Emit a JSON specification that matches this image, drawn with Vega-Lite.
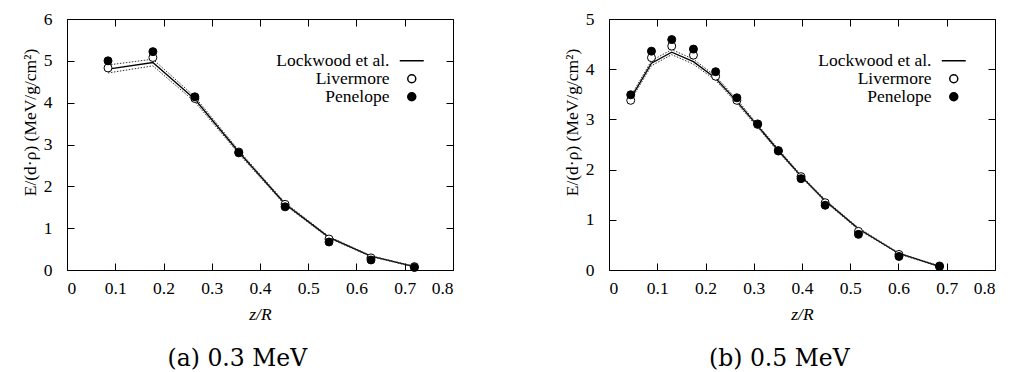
{
  "$schema": "https://vega.github.io/schema/vega-lite/v6.json",
  "padding": {"left": 20, "top": 9, "right": 0, "bottom": 0},
  "background": "white",
  "config": {
    "view": {"stroke": "black", "strokeWidth": 1},
    "axis": {"grid": false, "domain": false, "ticks": true, "tickSize": -7, "tickColor": "black", "tickWidth": 1,
             "labelFont": "Tinos", "labelFontSize": 17.5, "labelColor": "black",
             "titleFont": "Tinos", "titleFontSize": 17.5, "titleFontWeight": "normal", "titleColor": "black"},
    "legend": {"orient": "none", "legendX": 336, "legendY": 33, "labelAlign": "right", "labelOffset": -31,
               "labelFont": "Tinos", "labelFontSize": 17.5, "labelColor": "black",
               "symbolSize": 64, "rowPadding": -5, "padding": 0, "title": null}
  },
  "datasets": {
    "a": [
      {"z": 0.085, "Lockwood": 4.80, "hi": 4.90, "lo": 4.71, "Livermore": 4.83, "Penelope": 5.00},
      {"z": 0.178, "Lockwood": 4.96, "hi": 5.04, "lo": 4.88, "Livermore": 5.08, "Penelope": 5.22},
      {"z": 0.265, "Lockwood": 4.08, "hi": 4.14, "lo": 4.02, "Livermore": 4.10, "Penelope": 4.14},
      {"z": 0.356, "Lockwood": 2.82, "hi": 2.86, "lo": 2.78, "Livermore": 2.82, "Penelope": 2.80},
      {"z": 0.452, "Lockwood": 1.58, "hi": 1.61, "lo": 1.55, "Livermore": 1.57, "Penelope": 1.51},
      {"z": 0.543, "Lockwood": 0.78, "hi": 0.80, "lo": 0.76, "Livermore": 0.74, "Penelope": 0.67},
      {"z": 0.630, "Lockwood": 0.33, "hi": 0.34, "lo": 0.32, "Livermore": 0.29, "Penelope": 0.24},
      {"z": 0.720, "Lockwood": 0.08, "hi": 0.09, "lo": 0.07, "Livermore": 0.08, "Penelope": 0.06}
    ],
    "b": [
      {"z": 0.045, "Lockwood": 3.42, "hi": 3.46, "lo": 3.38, "Livermore": 3.38, "Penelope": 3.49},
      {"z": 0.088, "Lockwood": 4.12, "hi": 4.17, "lo": 4.07, "Livermore": 4.23, "Penelope": 4.36},
      {"z": 0.130, "Lockwood": 4.34, "hi": 4.39, "lo": 4.29, "Livermore": 4.46, "Penelope": 4.59},
      {"z": 0.175, "Lockwood": 4.15, "hi": 4.20, "lo": 4.10, "Livermore": 4.28, "Penelope": 4.40},
      {"z": 0.221, "Lockwood": 3.82, "hi": 3.86, "lo": 3.78, "Livermore": 3.86, "Penelope": 3.95},
      {"z": 0.265, "Lockwood": 3.36, "hi": 3.40, "lo": 3.32, "Livermore": 3.38, "Penelope": 3.43},
      {"z": 0.308, "Lockwood": 2.87, "hi": 2.90, "lo": 2.84, "Livermore": 2.90, "Penelope": 2.91},
      {"z": 0.351, "Lockwood": 2.38, "hi": 2.41, "lo": 2.35, "Livermore": 2.38, "Penelope": 2.37},
      {"z": 0.398, "Lockwood": 1.87, "hi": 1.89, "lo": 1.85, "Livermore": 1.86, "Penelope": 1.82},
      {"z": 0.448, "Lockwood": 1.38, "hi": 1.40, "lo": 1.36, "Livermore": 1.34, "Penelope": 1.29},
      {"z": 0.517, "Lockwood": 0.82, "hi": 0.84, "lo": 0.80, "Livermore": 0.77, "Penelope": 0.71},
      {"z": 0.601, "Lockwood": 0.33, "hi": 0.34, "lo": 0.32, "Livermore": 0.31, "Penelope": 0.27},
      {"z": 0.685, "Lockwood": 0.07, "hi": 0.08, "lo": 0.06, "Livermore": 0.08, "Penelope": 0.07}
    ]
  },
  "spacing": 108,
  "resolve": {"scale": {"shape": "independent", "fill": "independent"},
              "legend": {"shape": "independent", "fill": "independent"}},
  "hconcat": [
    {
      "width": 386, "height": 251,
      "title": {"text": "(a) 0.3 MeV", "orient": "bottom", "anchor": "middle", "frame": "bounds", "fontSize": 23.5, "font": "DejaVu Serif", "fontWeight": "normal", "color": "black", "offset": 24},
      "data": {"name": "a"},
      "layer": [
        {"mark": {"type": "line", "color": "black", "strokeWidth": 1.3},
         "encoding": {
           "x": {"field": "z", "type": "quantitative", "scale": {"domain": [0, 0.8], "nice": false, "zero": false},
                 "axis": {"values": [0, 0.1, 0.2, 0.3, 0.4, 0.5, 0.6, 0.7, 0.8], "format": "~g", "title": "z/R", "titleFontStyle": "italic", "labelPadding": 16, "titlePadding": 9,
                          "labelFont": "Tinos", "titleFont": "Tinos"}},
           "y": {"field": "Lockwood", "type": "quantitative", "scale": {"domain": [0, 6], "nice": false},
                 "axis": {"values": [0, 1, 2, 3, 4, 5, 6], "title": "E/(d·ρ) (MeV/g/cm²)", "labelPadding": 22, "titlePadding": 4, "titleY": 103,
                          "labelFont": "Tinos", "titleFont": "Tinos"}}
         }},
        {"mark": {"type": "line", "color": "#333", "strokeWidth": 1, "strokeDash": [1.5, 1.5]},
         "encoding": {"x": {"field": "z", "type": "quantitative", "axis": null}, "y": {"field": "hi", "type": "quantitative", "axis": null}}},
        {"mark": {"type": "line", "color": "#333", "strokeWidth": 1, "strokeDash": [1.5, 1.5]},
         "encoding": {"x": {"field": "z", "type": "quantitative", "axis": null}, "y": {"field": "lo", "type": "quantitative", "axis": null}}},
        {"transform": [{"fold": ["Livermore", "Penelope"], "as": ["series", "value"]}],
         "mark": {"type": "point", "filled": true, "stroke": "black", "strokeWidth": 1, "opacity": 1, "size": 64},
         "encoding": {
           "x": {"field": "z", "type": "quantitative", "axis": {"orient": "top", "labels": false, "title": null, "values": [0, 0.1, 0.2, 0.3, 0.4, 0.5, 0.6, 0.7, 0.8]}},
           "y": {"field": "value", "type": "quantitative", "axis": {"orient": "right", "labels": false, "title": null, "values": [0, 1, 2, 3, 4, 5, 6]}},
           "shape": {"field": "series", "type": "nominal", "scale": {"domain": ["Lockwood et al.", "Livermore", "Penelope"], "range": ["M-3,0H3", "circle", "circle"]},
                     "legend": {"encode": {"symbols": {"update": {"stroke": {"value": "black"}, "strokeWidth": {"value": 1.2}}}}}},
           "fill": {"field": "series", "type": "nominal", "scale": {"domain": ["Lockwood et al.", "Livermore", "Penelope"], "range": ["transparent", "white", "black"]},
                     "legend": {"encode": {"symbols": {"update": {"stroke": {"value": "black"}, "strokeWidth": {"value": 1.2}}}}}}
         }}
      ],
      "resolve": {"axis": {"x": "independent", "y": "independent"}}
    },
    {
      "width": 386, "height": 251,
      "title": {"text": "(b) 0.5 MeV", "orient": "bottom", "anchor": "middle", "frame": "bounds", "fontSize": 23.5, "font": "DejaVu Serif", "fontWeight": "normal", "color": "black", "offset": 24},
      "data": {"name": "b"},
      "layer": [
        {"mark": {"type": "line", "color": "black", "strokeWidth": 1.3},
         "encoding": {
           "x": {"field": "z", "type": "quantitative", "scale": {"domain": [0, 0.8], "nice": false, "zero": false},
                 "axis": {"values": [0, 0.1, 0.2, 0.3, 0.4, 0.5, 0.6, 0.7, 0.8], "format": "~g", "title": "z/R", "titleFontStyle": "italic", "labelPadding": 16, "titlePadding": 9,
                          "labelFont": "Tinos", "titleFont": "Tinos"}},
           "y": {"field": "Lockwood", "type": "quantitative", "scale": {"domain": [0, 5], "nice": false},
                 "axis": {"values": [0, 1, 2, 3, 4, 5], "title": "E/(d·ρ) (MeV/g/cm²)", "labelPadding": 22, "titlePadding": 4, "titleY": 103,
                          "labelFont": "Tinos", "titleFont": "Tinos"}}
         }},
        {"mark": {"type": "line", "color": "#333", "strokeWidth": 1, "strokeDash": [1.5, 1.5]},
         "encoding": {"x": {"field": "z", "type": "quantitative", "axis": null}, "y": {"field": "hi", "type": "quantitative", "axis": null}}},
        {"mark": {"type": "line", "color": "#333", "strokeWidth": 1, "strokeDash": [1.5, 1.5]},
         "encoding": {"x": {"field": "z", "type": "quantitative", "axis": null}, "y": {"field": "lo", "type": "quantitative", "axis": null}}},
        {"transform": [{"fold": ["Livermore", "Penelope"], "as": ["series", "value"]}],
         "mark": {"type": "point", "filled": true, "stroke": "black", "strokeWidth": 1, "opacity": 1, "size": 64},
         "encoding": {
           "x": {"field": "z", "type": "quantitative", "axis": {"orient": "top", "labels": false, "title": null, "values": [0, 0.1, 0.2, 0.3, 0.4, 0.5, 0.6, 0.7, 0.8]}},
           "y": {"field": "value", "type": "quantitative", "axis": {"orient": "right", "labels": false, "title": null, "values": [0, 1, 2, 3, 4, 5]}},
           "shape": {"field": "series", "type": "nominal", "scale": {"domain": ["Lockwood et al.", "Livermore", "Penelope"], "range": ["M-3,0H3", "circle", "circle"]},
                     "legend": {"encode": {"symbols": {"update": {"stroke": {"value": "black"}, "strokeWidth": {"value": 1.2}}}}}},
           "fill": {"field": "series", "type": "nominal", "scale": {"domain": ["Lockwood et al.", "Livermore", "Penelope"], "range": ["transparent", "white", "black"]},
                     "legend": {"encode": {"symbols": {"update": {"stroke": {"value": "black"}, "strokeWidth": {"value": 1.2}}}}}}
         }}
      ],
      "resolve": {"axis": {"x": "independent", "y": "independent"}}
    }
  ]
}
